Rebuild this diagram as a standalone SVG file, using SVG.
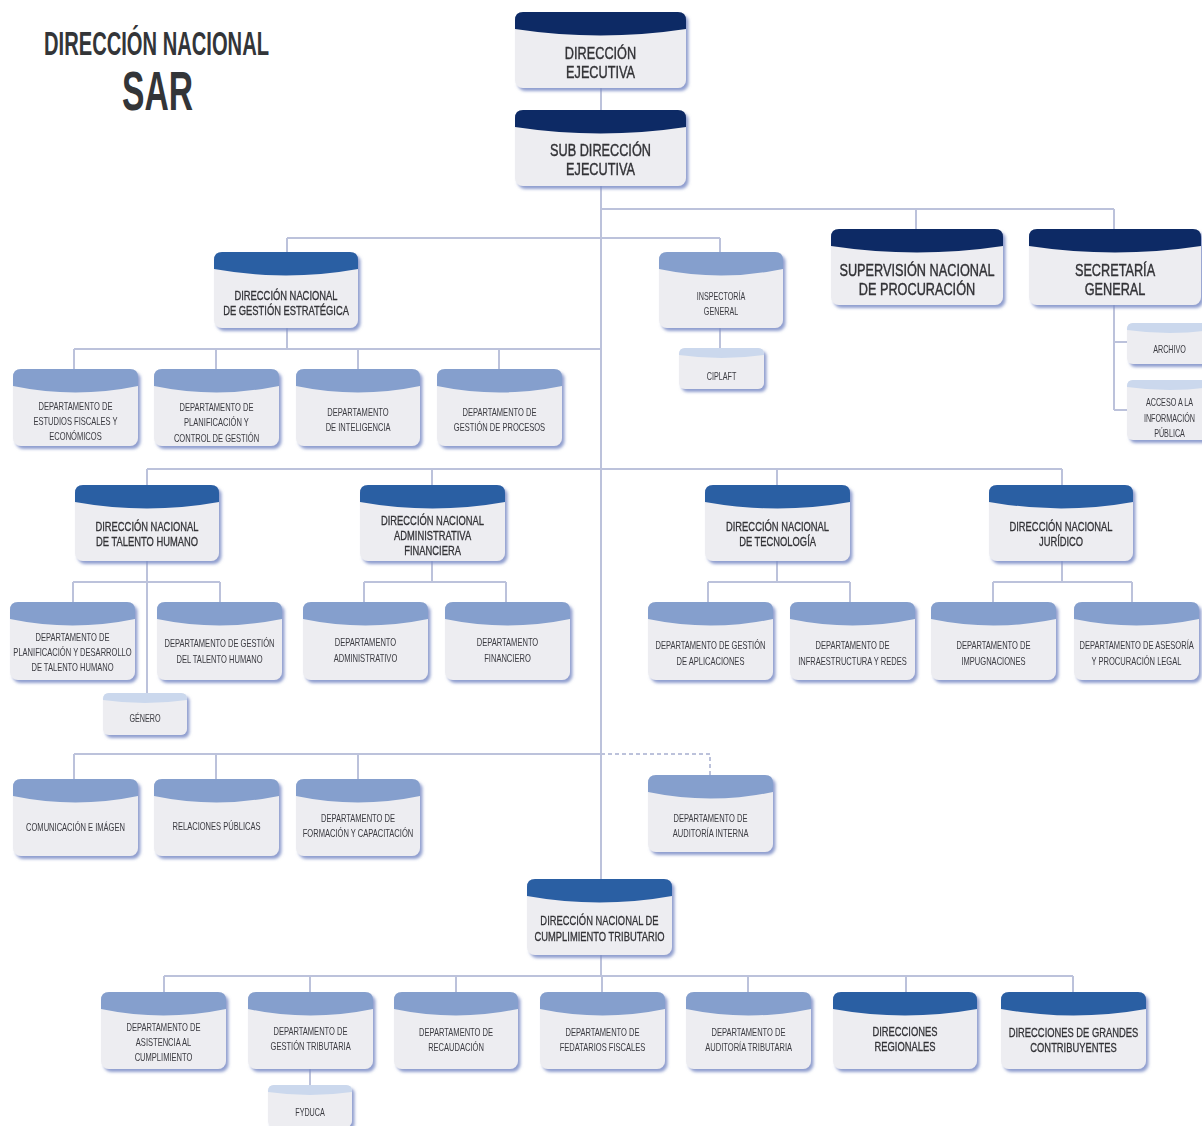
<svg xmlns="http://www.w3.org/2000/svg" width="1202" height="1126" viewBox="0 0 1202 1126">
<defs>
<filter id="sh" x="-10%" y="-10%" width="125%" height="130%">
<feDropShadow dx="2.5" dy="3" stdDeviation="1.4" flood-color="#7d8dc6" flood-opacity="0.85"/>
</filter>
<style>
.bd{fill:#ededf1}
.h0{fill:#0e2b65}.h1{fill:#2c5ea3}.h2{fill:#859fcd}.h3{fill:#cbd8ed}
.node{filter:url(#sh)}
.t{font-family:"Liberation Sans",Arial,sans-serif;fill:#323236;text-anchor:middle;transform-box:fill-box;transform-origin:center}
.tA{font-size:16.5px;transform:scaleX(.77);stroke:#323236;stroke-width:.4px}
.tB{font-size:12.5px;transform:scaleX(.75);stroke:#323236;stroke-width:.3px}
.tC{font-size:10.5px;transform:scaleX(.72);fill:#3a3a40}
.tD{font-size:10px;transform:scaleX(.72);fill:#3a3a40}
.ttl{font-family:"Liberation Sans",Arial,sans-serif;font-weight:bold;fill:#333538}
#conn path{fill:none;stroke:#bcc2db;stroke-width:2}
#conn path.dash{stroke-dasharray:4 3}
</style>
</defs>
<rect width="1202" height="1126" fill="#ffffff"/>
<g id="title">
<text class="ttl" x="44" y="55" font-size="33" textLength="225" lengthAdjust="spacingAndGlyphs">DIRECCIÓN NACIONAL</text>
<text class="ttl" x="122" y="110" font-size="56" textLength="71" lengthAdjust="spacingAndGlyphs">SAR</text>
</g>
<g id="conn">
<path d="M601,88 V879"/>
<path d="M601,209 H1114 M916,209 V229 M1114,209 V229"/>
<path d="M287,238 H720 M287,238 V252 M720,238 V252"/>
<path d="M720,328 V348"/>
<path d="M1114,305 V410 M1114,342 H1127 M1114,410 H1127"/>
<path d="M74,349 H601 M287,328 V349 M74,349 V369 M216,349 V369 M358,349 V369 M499,349 V369"/>
<path d="M147,469 H1062 M147,469 V485 M432,469 V485 M777,469 V485 M1062,469 V485"/>
<path d="M147,561 V693 M73,582 H220 M73,582 V602 M220,582 V602"/>
<path d="M432,561 V582 M364,582 H506 M364,582 V602 M506,582 V602"/>
<path d="M777,561 V582 M708,582 H850 M708,582 V602 M850,582 V602"/>
<path d="M1062,561 V582 M993,582 H1132 M993,582 V602 M1132,582 V602"/>
<path d="M74,754 H601 M74,754 V779 M216,754 V779 M358,754 V779"/>
<path class="dash" d="M601,754 H710 V775"/>
<path d="M601,955 V976 M164,976 H1073 M164,976 V992 M310,976 V992 M456,976 V992 M602,976 V992 M748,976 V992 M906,976 V992 M1073,976 V992"/>
<path d="M310,1069 V1085"/>
</g>

<g id="n-de" class="node"><rect class="bd" x="515" y="12" width="171" height="76" rx="8"/><path class="h0" d="M515,29 v-9 q0,-8 8,-8 h155 q8,0 8,8 v9 q-85.5,13 -171,0 z"/><text class="t tA" x="600.5" y="59">DIRECCIÓN</text><text class="t tA" x="600.5" y="78">EJECUTIVA</text></g>
<g id="n-sde" class="node"><rect class="bd" x="515" y="110" width="171" height="76" rx="8"/><path class="h0" d="M515,127 v-9 q0,-8 8,-8 h155 q8,0 8,8 v9 q-85.5,13 -171,0 z"/><text class="t tA" x="600.5" y="156">SUB DIRECCIÓN</text><text class="t tA" x="600.5" y="175">EJECUTIVA</text></g>
<g id="n-snp" class="node"><rect class="bd" x="831" y="229" width="172" height="76" rx="8"/><path class="h0" d="M831,246 v-9 q0,-8 8,-8 h156 q8,0 8,8 v9 q-86,13 -172,0 z"/><text class="t tA" x="917" y="276">SUPERVISIÓN NACIONAL</text><text class="t tA" x="917" y="295">DE PROCURACIÓN</text></g>
<g id="n-sg" class="node"><rect class="bd" x="1029" y="229" width="172" height="76" rx="8"/><path class="h0" d="M1029,246 v-9 q0,-8 8,-8 h156 q8,0 8,8 v9 q-86,13 -172,0 z"/><text class="t tA" x="1115" y="276">SECRETARÍA</text><text class="t tA" x="1115" y="295">GENERAL</text></g>

<g id="n-dnge" class="node"><rect class="bd" x="214" y="252" width="144" height="76" rx="8"/><path class="h1" d="M214,269 v-9 q0,-8 8,-8 h128 q8,0 8,8 v9 q-72,13 -144,0 z"/><text class="t tB" x="286" y="300.5">DIRECCIÓN NACIONAL</text><text class="t tB" x="286" y="315.5">DE GESTIÓN ESTRATÉGICA</text></g>
<g id="n-insp" class="node"><rect class="bd" x="659" y="252" width="124" height="76" rx="8"/><path class="h2" d="M659,269 v-9 q0,-8 8,-8 h108 q8,0 8,8 v9 q-62,13 -124,0 z"/><text class="t tD" x="721" y="300">INSPECTORÍA</text><text class="t tD" x="721" y="315">GENERAL</text></g>
<g id="n-ciplaft" class="node"><rect class="bd" x="679" y="348" width="85" height="41" rx="6"/><path class="h3" d="M679,355 v-1 q0,-6 6,-6 h73 q6,0 6,6 v1 q-42.5,6 -85,0 z"/><text class="t tD" x="721.5" y="380">CIPLAFT</text></g>
<g id="n-archivo" class="node"><rect class="bd" x="1127" y="323" width="85" height="41" rx="6"/><path class="h3" d="M1127,330 v-1 q0,-6 6,-6 h73 q6,0 6,6 v1 q-42.5,6 -85,0 z"/><text class="t tD" x="1169.5" y="353">ARCHIVO</text></g>
<g id="n-acceso" class="node"><rect class="bd" x="1127" y="380" width="85" height="60" rx="6"/><path class="h3" d="M1127,387 v-1 q0,-6 6,-6 h73 q6,0 6,6 v1 q-42.5,6 -85,0 z"/><text class="t tD" x="1169.5" y="406">ACCESO A LA</text><text class="t tD" x="1169.5" y="422">INFORMACIÓN</text><text class="t tD" x="1169.5" y="437">PÚBLICA</text></g>

<g id="n-ef" class="node"><rect class="bd" x="13" y="369" width="125" height="77" rx="8"/><path class="h2" d="M13,386 v-9 q0,-8 8,-8 h109 q8,0 8,8 v9 q-62.5,13 -125,0 z"/><text class="t tC" x="75.5" y="410">DEPARTAMENTO DE</text><text class="t tC" x="75.5" y="425">ESTUDIOS FISCALES Y</text><text class="t tC" x="75.5" y="440">ECONÓMICOS</text></g>
<g id="n-pc" class="node"><rect class="bd" x="154" y="369" width="125" height="77" rx="8"/><path class="h2" d="M154,386 v-9 q0,-8 8,-8 h109 q8,0 8,8 v9 q-62.5,13 -125,0 z"/><text class="t tC" x="216.5" y="411">DEPARTAMENTO DE</text><text class="t tC" x="216.5" y="426">PLANIFICACIÓN Y</text><text class="t tC" x="216.5" y="442">CONTROL DE GESTIÓN</text></g>
<g id="n-int" class="node"><rect class="bd" x="296" y="369" width="124" height="77" rx="8"/><path class="h2" d="M296,386 v-9 q0,-8 8,-8 h108 q8,0 8,8 v9 q-62,13 -124,0 z"/><text class="t tC" x="358" y="416">DEPARTAMENTO</text><text class="t tC" x="358" y="431">DE INTELIGENCIA</text></g>
<g id="n-gp" class="node"><rect class="bd" x="437" y="369" width="125" height="77" rx="8"/><path class="h2" d="M437,386 v-9 q0,-8 8,-8 h109 q8,0 8,8 v9 q-62.5,13 -125,0 z"/><text class="t tC" x="499.5" y="416">DEPARTAMENTO DE</text><text class="t tC" x="499.5" y="431">GESTIÓN DE PROCESOS</text></g>

<g id="n-dnth" class="node"><rect class="bd" x="75" y="485" width="144" height="76" rx="8"/><path class="h1" d="M75,502 v-9 q0,-8 8,-8 h128 q8,0 8,8 v9 q-72,13 -144,0 z"/><text class="t tB" x="147" y="531.5">DIRECCIÓN NACIONAL</text><text class="t tB" x="147" y="546.5">DE TALENTO HUMANO</text></g>
<g id="n-dnaf" class="node"><rect class="bd" x="360" y="485" width="145" height="76" rx="8"/><path class="h1" d="M360,502 v-9 q0,-8 8,-8 h129 q8,0 8,8 v9 q-72.5,13 -145,0 z"/><text class="t tB" x="432.5" y="525.5">DIRECCIÓN NACIONAL</text><text class="t tB" x="432.5" y="540.5">ADMINISTRATIVA</text><text class="t tB" x="432.5" y="555.5">FINANCIERA</text></g>
<g id="n-dnt" class="node"><rect class="bd" x="705" y="485" width="145" height="76" rx="8"/><path class="h1" d="M705,502 v-9 q0,-8 8,-8 h129 q8,0 8,8 v9 q-72.5,13 -145,0 z"/><text class="t tB" x="777.5" y="531.5">DIRECCIÓN NACIONAL</text><text class="t tB" x="777.5" y="546.5">DE TECNOLOGÍA</text></g>
<g id="n-dnj" class="node"><rect class="bd" x="989" y="485" width="144" height="76" rx="8"/><path class="h1" d="M989,502 v-9 q0,-8 8,-8 h128 q8,0 8,8 v9 q-72,13 -144,0 z"/><text class="t tB" x="1061" y="531.5">DIRECCIÓN NACIONAL</text><text class="t tB" x="1061" y="546.5">JURÍDICO</text></g>

<g id="n-pdth" class="node"><rect class="bd" x="10" y="602" width="125" height="78" rx="8"/><path class="h2" d="M10,619 v-9 q0,-8 8,-8 h109 q8,0 8,8 v9 q-62.5,13 -125,0 z"/><text class="t tC" x="72.5" y="641">DEPARTAMENTO DE</text><text class="t tC" x="72.5" y="656">PLANIFICACIÓN Y DESARROLLO</text><text class="t tC" x="72.5" y="671">DE TALENTO HUMANO</text></g>
<g id="n-gth" class="node"><rect class="bd" x="157" y="602" width="125" height="78" rx="8"/><path class="h2" d="M157,619 v-9 q0,-8 8,-8 h109 q8,0 8,8 v9 q-62.5,13 -125,0 z"/><text class="t tC" x="219.5" y="647">DEPARTAMENTO DE GESTIÓN</text><text class="t tC" x="219.5" y="663">DEL TALENTO HUMANO</text></g>
<g id="n-genero" class="node"><rect class="bd" x="103" y="693" width="84" height="42" rx="6"/><path class="h3" d="M103,700 v-1 q0,-6 6,-6 h72 q6,0 6,6 v1 q-42,6 -84,0 z"/><text class="t tD" x="145" y="722">GÉNERO</text></g>
<g id="n-adm" class="node"><rect class="bd" x="303" y="602" width="125" height="78" rx="8"/><path class="h2" d="M303,619 v-9 q0,-8 8,-8 h109 q8,0 8,8 v9 q-62.5,13 -125,0 z"/><text class="t tC" x="365.5" y="646">DEPARTAMENTO</text><text class="t tC" x="365.5" y="662">ADMINISTRATIVO</text></g>
<g id="n-fin" class="node"><rect class="bd" x="445" y="602" width="125" height="78" rx="8"/><path class="h2" d="M445,619 v-9 q0,-8 8,-8 h109 q8,0 8,8 v9 q-62.5,13 -125,0 z"/><text class="t tC" x="507.5" y="646">DEPARTAMENTO</text><text class="t tC" x="507.5" y="662">FINANCIERO</text></g>
<g id="n-ga" class="node"><rect class="bd" x="648" y="602" width="125" height="78" rx="8"/><path class="h2" d="M648,619 v-9 q0,-8 8,-8 h109 q8,0 8,8 v9 q-62.5,13 -125,0 z"/><text class="t tC" x="710.5" y="649">DEPARTAMENTO DE GESTIÓN</text><text class="t tC" x="710.5" y="665">DE APLICACIONES</text></g>
<g id="n-ir" class="node"><rect class="bd" x="790" y="602" width="125" height="78" rx="8"/><path class="h2" d="M790,619 v-9 q0,-8 8,-8 h109 q8,0 8,8 v9 q-62.5,13 -125,0 z"/><text class="t tC" x="852.5" y="649">DEPARTAMENTO DE</text><text class="t tC" x="852.5" y="665">INFRAESTRUCTURA Y REDES</text></g>
<g id="n-imp" class="node"><rect class="bd" x="931" y="602" width="125" height="78" rx="8"/><path class="h2" d="M931,619 v-9 q0,-8 8,-8 h109 q8,0 8,8 v9 q-62.5,13 -125,0 z"/><text class="t tC" x="993.5" y="649">DEPARTAMENTO DE</text><text class="t tC" x="993.5" y="665">IMPUGNACIONES</text></g>
<g id="n-apl" class="node"><rect class="bd" x="1074" y="602" width="125" height="78" rx="8"/><path class="h2" d="M1074,619 v-9 q0,-8 8,-8 h109 q8,0 8,8 v9 q-62.5,13 -125,0 z"/><text class="t tC" x="1136.5" y="649">DEPARTAMENTO DE ASESORÍA</text><text class="t tC" x="1136.5" y="665">Y PROCURACIÓN LEGAL</text></g>

<g id="n-com" class="node"><rect class="bd" x="13" y="779" width="125" height="77" rx="8"/><path class="h2" d="M13,796 v-9 q0,-8 8,-8 h109 q8,0 8,8 v9 q-62.5,13 -125,0 z"/><text class="t tC" x="75.5" y="831">COMUNICACIÓN E IMÁGEN</text></g>
<g id="n-rp" class="node"><rect class="bd" x="154" y="779" width="125" height="77" rx="8"/><path class="h2" d="M154,796 v-9 q0,-8 8,-8 h109 q8,0 8,8 v9 q-62.5,13 -125,0 z"/><text class="t tC" x="216.5" y="830">RELACIONES PÚBLICAS</text></g>
<g id="n-fc" class="node"><rect class="bd" x="296" y="779" width="124" height="77" rx="8"/><path class="h2" d="M296,796 v-9 q0,-8 8,-8 h108 q8,0 8,8 v9 q-62,13 -124,0 z"/><text class="t tC" x="358" y="822">DEPARTAMENTO DE</text><text class="t tC" x="358" y="837">FORMACIÓN Y CAPACITACIÓN</text></g>
<g id="n-ai" class="node"><rect class="bd" x="648" y="775" width="125" height="77" rx="8"/><path class="h2" d="M648,792 v-9 q0,-8 8,-8 h109 q8,0 8,8 v9 q-62.5,13 -125,0 z"/><text class="t tC" x="710.5" y="822">DEPARTAMENTO DE</text><text class="t tC" x="710.5" y="837">AUDITORÍA INTERNA</text></g>

<g id="n-dnct" class="node"><rect class="bd" x="527" y="879" width="145" height="76" rx="8"/><path class="h1" d="M527,896 v-9 q0,-8 8,-8 h129 q8,0 8,8 v9 q-72.5,13 -145,0 z"/><text class="t tB" x="599.5" y="925.5">DIRECCIÓN NACIONAL  DE</text><text class="t tB" x="599.5" y="941.5">CUMPLIMIENTO TRIBUTARIO</text></g>

<g id="n-asis" class="node"><rect class="bd" x="101" y="992" width="125" height="77" rx="8"/><path class="h2" d="M101,1009 v-9 q0,-8 8,-8 h109 q8,0 8,8 v9 q-62.5,13 -125,0 z"/><text class="t tC" x="163.5" y="1031">DEPARTAMENTO DE</text><text class="t tC" x="163.5" y="1046">ASISTENCIA AL</text><text class="t tC" x="163.5" y="1061">CUMPLIMIENTO</text></g>
<g id="n-gt" class="node"><rect class="bd" x="248" y="992" width="125" height="77" rx="8"/><path class="h2" d="M248,1009 v-9 q0,-8 8,-8 h109 q8,0 8,8 v9 q-62.5,13 -125,0 z"/><text class="t tC" x="310.5" y="1035">DEPARTAMENTO DE</text><text class="t tC" x="310.5" y="1050">GESTIÓN TRIBUTARIA</text></g>
<g id="n-fyduca" class="node"><rect class="bd" x="268" y="1085" width="84" height="42" rx="6"/><path class="h3" d="M268,1092 v-1 q0,-6 6,-6 h72 q6,0 6,6 v1 q-42,6 -84,0 z"/><text class="t tD" x="310" y="1116">FYDUCA</text></g>
<g id="n-rec" class="node"><rect class="bd" x="394" y="992" width="124" height="77" rx="8"/><path class="h2" d="M394,1009 v-9 q0,-8 8,-8 h108 q8,0 8,8 v9 q-62,13 -124,0 z"/><text class="t tC" x="456" y="1036">DEPARTAMENTO DE</text><text class="t tC" x="456" y="1051">RECAUDACIÓN</text></g>
<g id="n-fed" class="node"><rect class="bd" x="540" y="992" width="125" height="77" rx="8"/><path class="h2" d="M540,1009 v-9 q0,-8 8,-8 h109 q8,0 8,8 v9 q-62.5,13 -125,0 z"/><text class="t tC" x="602.5" y="1036">DEPARTAMENTO DE</text><text class="t tC" x="602.5" y="1051">FEDATARIOS FISCALES</text></g>
<g id="n-aud" class="node"><rect class="bd" x="686" y="992" width="125" height="77" rx="8"/><path class="h2" d="M686,1009 v-9 q0,-8 8,-8 h109 q8,0 8,8 v9 q-62.5,13 -125,0 z"/><text class="t tC" x="748.5" y="1036">DEPARTAMENTO DE</text><text class="t tC" x="748.5" y="1051">AUDITORÍA TRIBUTARIA</text></g>
<g id="n-dr" class="node"><rect class="bd" x="833" y="992" width="144" height="77" rx="8"/><path class="h1" d="M833,1009 v-9 q0,-8 8,-8 h128 q8,0 8,8 v9 q-72,13 -144,0 z"/><text class="t tB" x="905" y="1036.5">DIRECCIONES</text><text class="t tB" x="905" y="1051.5">REGIONALES</text></g>
<g id="n-dgc" class="node"><rect class="bd" x="1001" y="992" width="145" height="77" rx="8"/><path class="h1" d="M1001,1009 v-9 q0,-8 8,-8 h129 q8,0 8,8 v9 q-72.5,13 -145,0 z"/><text class="t tB" x="1073.5" y="1037.5">DIRECCIONES DE GRANDES</text><text class="t tB" x="1073.5" y="1052.5">CONTRIBUYENTES</text></g>
</svg>
